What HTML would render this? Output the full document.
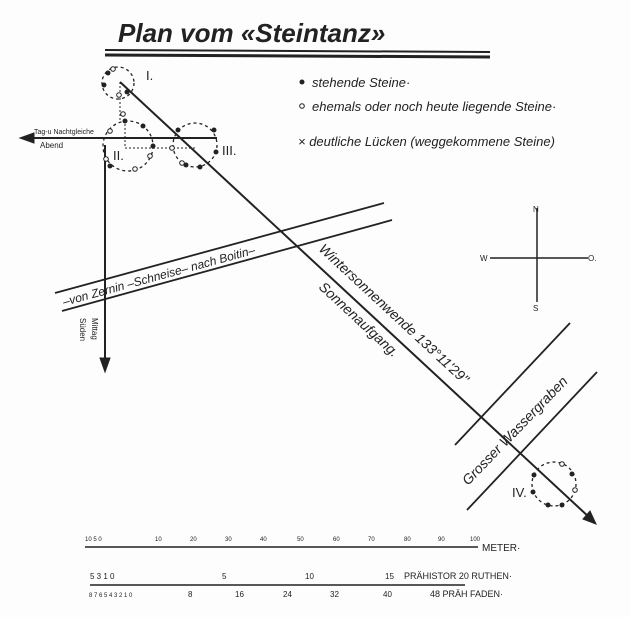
<!DOCTYPE html>
<html><head><meta charset="utf-8"><style>
body{margin:0;background:#fff}
svg{display:block}
text{font-family:"Liberation Sans",sans-serif;fill:#222}
</style></head><body>
<svg width="631" height="617" viewBox="0 0 631 617" xmlns="http://www.w3.org/2000/svg">
<rect width="631" height="617" fill="#fdfdfd"/>
<g stroke="#222" fill="none">
<text x="118" y="42" font-size="26" font-style="italic" font-weight="bold" stroke="none">Plan vom «Steintanz»</text>
<line x1="105" y1="50" x2="490" y2="52" stroke-width="2"/>
<line x1="105" y1="55" x2="490" y2="57" stroke-width="3"/>

<circle cx="118" cy="83" r="16" stroke-dasharray="3,3" stroke-width="1.3"/>
<circle cx="128" cy="146" r="25" stroke-dasharray="3,3" stroke-width="1.3"/>
<circle cx="195" cy="145" r="22" stroke-dasharray="3,3" stroke-width="1.3"/>
<circle cx="554" cy="484" r="22" stroke-dasharray="3,3" stroke-width="1.3"/>
<g stroke-dasharray="2,2" stroke-width="1"><line x1="120" y1="82" x2="120" y2="120"/><line x1="125" y1="120" x2="125" y2="148"/><line x1="125" y1="148" x2="195" y2="148"/></g>

<line x1="120" y1="82" x2="590" y2="518" stroke-width="2"/>
<polygon points="596,524 583,519 590,511" fill="#222"/>
<line x1="30" y1="138" x2="217" y2="138" stroke-width="2"/>
<polygon points="20,138 34,133 34,143" fill="#222"/>
<line x1="105" y1="145" x2="105" y2="362" stroke-width="2"/>
<polygon points="105,372 100,358 110,358" fill="#222"/>

<line x1="55" y1="293" x2="384" y2="203" stroke-width="1.8"/>
<line x1="62" y1="311" x2="392" y2="220" stroke-width="1.8"/>
<line x1="455" y1="445" x2="570" y2="323" stroke-width="1.8"/>
<line x1="467" y1="510" x2="597" y2="372" stroke-width="1.8"/>
<line x1="537" y1="208" x2="537" y2="302" stroke-width="1.5"/>
<line x1="490" y1="258" x2="588" y2="258" stroke-width="1.5"/>

<line x1="85" y1="547" x2="478" y2="547" stroke-width="1.5"/>
<line x1="90" y1="585" x2="465" y2="585" stroke-width="1.5"/>
</g>
<g fill="#222">
<circle cx="127" cy="92" r="2.5"/><circle cx="104" cy="85" r="2.5"/><circle cx="108" cy="73" r="2.5"/>
<circle cx="153" cy="146" r="2.5"/><circle cx="125" cy="121" r="2.5"/><circle cx="143" cy="126" r="2.5"/><circle cx="110" cy="166" r="2.5"/>
<circle cx="178" cy="130" r="2.5"/><circle cx="214" cy="130" r="2.5"/><circle cx="216" cy="152" r="2.5"/><circle cx="200" cy="167" r="2.5"/><circle cx="186" cy="165" r="2.5"/>
<circle cx="572" cy="474" r="2.5"/><circle cx="534" cy="475" r="2.5"/><circle cx="533" cy="492" r="2.5"/><circle cx="548" cy="505" r="2.5"/><circle cx="562" cy="505" r="2.5"/>
<circle cx="302" cy="82" r="2.5"/>
</g>
<g fill="#fff" stroke="#222">
<circle cx="113" cy="69" r="2.3"/><circle cx="119" cy="95" r="2.3"/><circle cx="123" cy="114" r="2.3"/><circle cx="110" cy="131" r="2.3"/>
<circle cx="106" cy="159" r="2.3"/><circle cx="135" cy="169" r="2.3"/><circle cx="150" cy="156" r="2.3"/>
<circle cx="172" cy="148" r="2.3"/><circle cx="182" cy="163" r="2.3"/><circle cx="562" cy="464" r="2.3"/><circle cx="575" cy="490" r="2.3"/>
<circle cx="302" cy="106" r="2.3"/>
</g>
<g font-size="13" font-style="italic">
<text x="146" y="80" font-family="Liberation Serif" font-style="normal">I.</text>
<text x="113" y="160" font-family="Liberation Serif" font-style="normal">II.</text>
<text x="222" y="155" font-family="Liberation Serif" font-style="normal">III.</text>
<text x="512" y="497" font-family="Liberation Serif" font-style="normal">IV.</text>
<text x="312" y="87">stehende Steine·</text>
<text x="312" y="111">ehemals oder noch heute liegende Steine·</text>
<text x="298" y="146">× deutliche Lücken (weggekommene Steine)</text>
<text font-size="7" font-style="normal" x="34" y="134">Tag-u Nachtgleiche</text>
<text font-size="8" font-style="normal" x="40" y="148">Abend</text>
<text font-size="8" font-style="normal" transform="translate(92,318) rotate(90)">Mittag</text>
<text font-size="8" font-style="normal" transform="translate(80,318) rotate(90)">Süden</text>
<text transform="translate(64,306) rotate(-15.3)" font-size="12">–von Zernin –Schneise– nach Boitin–</text>
<text transform="translate(318,250) rotate(42.8)" font-size="14">Wintersonnenwende 133°11'29''</text>
<text transform="translate(318,288) rotate(42.8)" font-size="14">Sonnenaufgang.</text>
<text transform="translate(468,486) rotate(-46)" font-size="14">Grosser  Wassergraben</text>
<text x="533" y="212" font-size="8" font-style="normal">N</text>
<text x="533" y="311" font-size="8" font-style="normal">S</text>
<text x="480" y="261" font-size="8" font-style="normal">W</text>
<text x="588" y="261" font-size="8" font-style="normal">O.</text>
</g>
<g font-size="6">
<text x="85" y="541">10 5 0</text>
<text x="155" y="541">10</text><text x="190" y="541">20</text><text x="225" y="541">30</text><text x="260" y="541">40</text><text x="297" y="541">50</text><text x="333" y="541">60</text><text x="368" y="541">70</text><text x="404" y="541">80</text><text x="438" y="541">90</text><text x="470" y="541">100</text>
<text x="482" y="551" font-size="10">METER·</text>
<text x="90" y="579" font-size="8">5 3 1 0</text>
<text x="222" y="579" font-size="8">5</text><text x="305" y="579" font-size="8">10</text><text x="385" y="579" font-size="8">15</text>
<text x="404" y="579" font-size="9">PRÄHISTOR 20 RUTHEN·</text>
<text x="89" y="597" font-size="6">8 7 6 5 4 3 2 1 0</text>
<text x="188" y="597" font-size="8">8</text><text x="235" y="597" font-size="8">16</text><text x="283" y="597" font-size="8">24</text><text x="330" y="597" font-size="8">32</text><text x="383" y="597" font-size="8">40</text>
<text x="430" y="597" font-size="9">48 PRÄH FADEN·</text>
</g>
</svg>
</body></html>
